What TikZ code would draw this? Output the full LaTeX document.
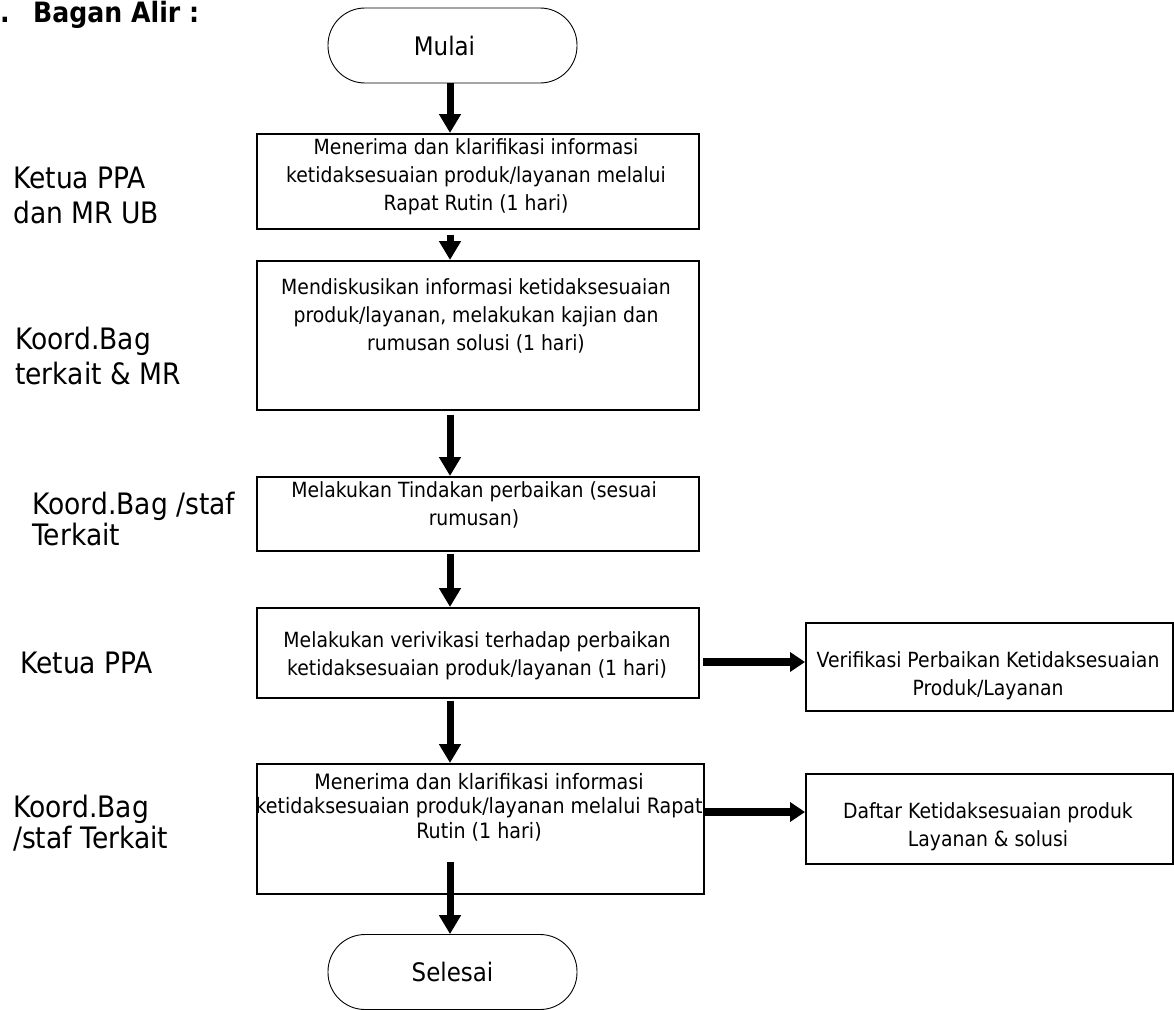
\documentclass[tikz,border=0pt]{standalone}
\usepackage{fontspec}
\setmainfont{DejaVu Sans}[FakeStretch=0.9]
\usetikzlibrary{arrows.meta,calc}
\begin{document}
\begin{tikzpicture}[x=1pt,y=-1pt,
  box/.style={draw, line width=1.9pt, inner sep=0pt, anchor=north west},
  term/.style={draw, line width=0.9pt, rounded corners=37pt, inner sep=0pt,
    minimum width=249pt, minimum height=75pt, font=\fontsize{25.5}{30}\selectfont},
  txt/.style={font=\fontsize{20.9}{28}\selectfont, align=center, inner sep=0pt},
  lab/.style={font=\fontsize{29.5}{35}\selectfont, align=left, anchor=west, inner sep=0pt},
  varr/.style={line width=7pt, -{Triangle[width=21pt,length=19pt]}},
  harr/.style={line width=8pt, -{Triangle[width=19pt,length=15pt]}}
]
\useasboundingbox (0,0) rectangle (1174,1009);
\coordinate (ax) at (450,0);

% title
\node[anchor=base west, inner sep=0pt, font=\bfseries\fontsize{28}{32}\selectfont] (dot) at (0,22) {.};
\node[anchor=base west, inner sep=0pt, font=\bfseries\fontsize{28}{32}\selectfont] (title) at (33,22) {Bagan Alir :};

% terminals
\node[term] (mulai) at (452.5,45.5) {\hspace*{-16pt}Mulai};
\node[term] (selesai) at (452.5,972) {Selesai};

% boxes
\node[box, minimum width=442pt, minimum height=95pt] (b1) at (256,133) {};
\node[box, minimum width=442pt, minimum height=149pt] (b2) at (256,260) {};
\node[box, minimum width=442pt, minimum height=74pt] (b3) at (256,476) {};
\node[box, minimum width=442pt, minimum height=90pt] (b4) at (256,607) {};
\node[box, minimum width=367pt, minimum height=88pt] (b5) at (805,622) {};
\node[box, minimum width=447pt, minimum height=130pt] (b6) at (256,763) {};
\node[box, minimum width=367pt, minimum height=90pt] (b7) at (805,773) {};

% box texts
\node[txt] (t1) at (476,177) {Menerima dan klarifikasi informasi\\ketidaksesuaian produk/layanan melalui\\Rapat Rutin (1 hari)};
\node[txt] (t2) at (476,316) {Mendiskusikan informasi ketidaksesuaian\\produk/layanan, melakukan kajian dan\\rumusan solusi (1 hari)};
\node[txt] (t3) at (474,505) {Melakukan Tindakan perbaikan (sesuai\\rumusan)};
\node[txt] (t4) at (477,656) {Melakukan verivikasi terhadap perbaikan\\ketidaksesuaian produk/layanan (1 hari)};
\node[txt] (t5) at (988,676) {Verifikasi Perbaikan Ketidaksesuaian\\Produk/Layanan};
\node[txt, font=\fontsize{21.2}{24.5}\selectfont] (t6) at (479,807) {Menerima dan klarifikasi informasi\\ketidaksesuaian produk/layanan melalui Rapat\\Rutin (1 hari)};
\node[txt] (t7) at (988,827) {Daftar Ketidaksesuaian produk\\Layanan \& solusi};

% lane labels
\node[lab] (l1) at (13,195.5) {Ketua PPA\\dan MR UB};
\node[lab] (l2) at (15,355.5) {Koord.Bag\\terkait \& MR};
\node[lab, font=\fontsize{29.5}{31}\selectfont] (l3) at (32,519) {Koord.Bag /staf\\Terkait};
\node[lab] (l4) at (20,663) {Ketua PPA};
\node[lab, font=\fontsize{29.5}{31}\selectfont] (l5) at (13,823) {Koord.Bag\\/staf Terkait};

% vertical arrows
\draw[varr] (mulai.south -| ax) -- (b1.north -| ax);
\draw[varr] ($(b1.south -| ax)+(0,5)$) -- (b2.north -| ax);
\draw[varr] ($(b2.south -| ax)+(0,4)$) -- (b3.north -| ax);
\draw[varr] ($(b3.south -| ax)+(0,2)$) -- (b4.north -| ax);
\draw[varr] ($(b4.south -| ax)+(0,2)$) -- (b6.north -| ax);
\draw[varr] ($(b6.south -| ax)+(0,-33)$) -- (selesai.north -| ax);

% horizontal arrows
\coordinate (h1) at (703,662);
\coordinate (h2) at (0,812);
\draw[harr] (h1) -- (h1 -| b5.west);
\draw[harr] (h2 -| b6.east) -- (h2 -| b7.west);
\end{tikzpicture}
\end{document}
